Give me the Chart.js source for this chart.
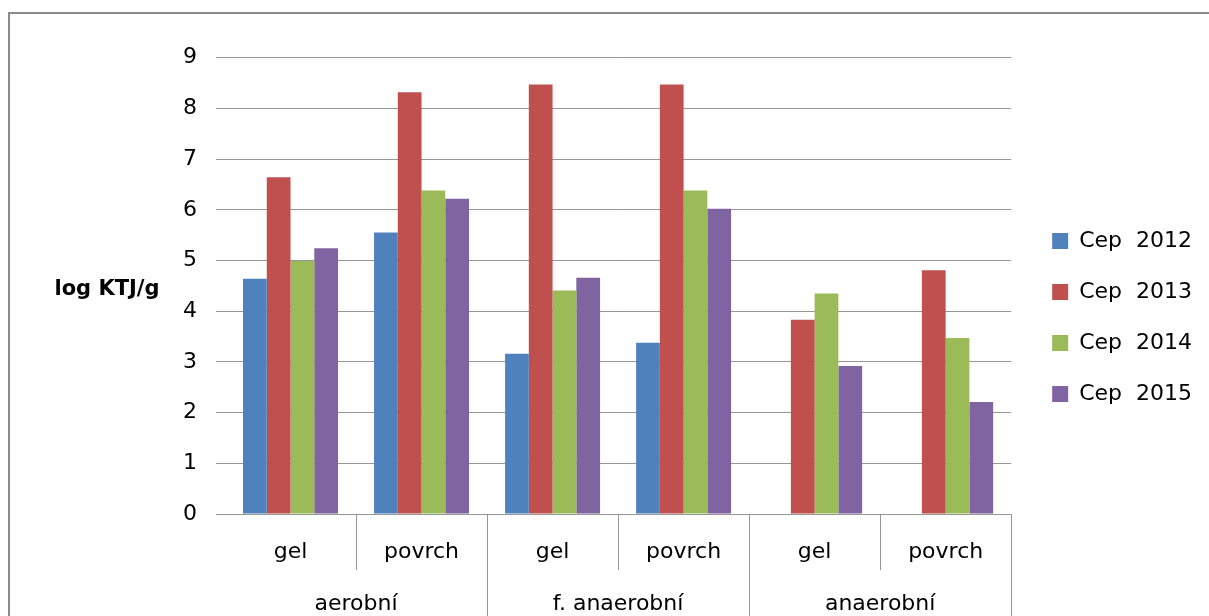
<!DOCTYPE html>
<html><head><meta charset="utf-8">
<script src="https://cdn.jsdelivr.net/npm/chart.js@4"></script>
<style>
html,body{margin:0;padding:0;background:#fff;overflow:hidden;width:1209px;height:616px;}
#frame{position:absolute;left:8px;top:12px;width:1400px;height:800px;border:2px solid #8a8a8a;box-sizing:border-box;}
#wrap{position:absolute;left:0;top:0;width:1209px;height:660px;}
</style></head><body>
<div id="frame"></div>
<div id="wrap"><canvas id="c"></canvas></div>
<script>
const subCategories = ['gel', 'povrch', 'gel', 'povrch', 'gel', 'povrch'];
const groupLabels = ['aerobní', 'f. anaerobní', 'anaerobní'];
const seriesNames = ['Cep  2012', 'Cep  2013', 'Cep  2014', 'Cep  2015'];
const cep2012 = [4.64, 5.55, 3.16, 3.38, null, null];
const cep2013 = [6.64, 8.32, 8.47, 8.47, 3.83, 4.81];
const cep2014 = [4.99, 6.38, 4.41, 6.38, 4.35, 3.47];
const cep2015 = [5.24, 6.22, 4.66, 6.02, 2.92, 2.21];
const yMin = 0, yMax = 9, yStep = 1;
const yAxisTitle = 'log KTJ/g';

const colors = ['#4F81BD', '#C0504D', '#9BBB59', '#8064A2'];
const seriesValues = [cep2012, cep2013, cep2014, cep2015];
const FONT = 'DejaVu Sans';
const lineColor = '#969696';

const yTitlePlugin = {
  id: 'yTitle',
  afterDraw(chart) {
    const ctx = chart.ctx;
    const y = chart.scales.y;
    ctx.save();
    ctx.font = 'bold 21px "' + FONT + '"';
    ctx.fillStyle = '#000';
    ctx.textAlign = 'center';
    ctx.textBaseline = 'alphabetic';
    ctx.fillText(yAxisTitle, 107, (y.top + y.bottom) / 2 + 9);
    ctx.restore();
  }
};

new Chart(document.getElementById('c'), {
  type: 'bar',
  data: {
    labels: subCategories,
    datasets: seriesValues.map((v, i) => ({
      label: seriesNames[i],
      data: v,
      backgroundColor: colors[i],
      borderWidth: 0,
      categoryPercentage: 0.725,
      barPercentage: 1.0,
      xAxisID: 'x',
      yAxisID: 'y'
    }))
  },
  options: {
    responsive: true,
    maintainAspectRatio: false,
    animation: false,
    layout: { padding: { top: 0, left: 0, right: 7, bottom: 25 } },
    plugins: {
      tooltip: { enabled: false },
      legend: {
        position: 'right',
        align: 'center',
        labels: {
          boxWidth: 16, boxHeight: 16, padding: 29,
          color: '#000',
          font: { family: FONT, size: 22 }
        }
      }
    },
    scales: {
      x: {
        type: 'category',
        position: 'bottom',
        offset: true,
        grid: {
          offset: true, drawOnChartArea: false, drawTicks: true, tickLength: 56,
          color: (c) => (c.index === 0 ? 'rgba(0,0,0,0)' : lineColor), lineWidth: 1
        },
        border: { display: true, color: lineColor, width: 1 },
        ticks: { color: '#000', font: { family: FONT, size: 22 }, padding: -31, maxRotation: 0, autoSkip: false },
        afterFit: (s) => { s.height = 56; }
      },
      x2: {
        type: 'category',
        position: 'bottom',
        labels: groupLabels,
        offset: true,
        grid: {
          offset: true, drawOnChartArea: false, drawTicks: true, tickLength: 65,
          color: (c) => (c.index === 0 ? 'rgba(0,0,0,0)' : lineColor), lineWidth: 1
        },
        border: { display: false },
        ticks: { color: '#000', font: { family: FONT, size: 22 }, padding: -44, maxRotation: 0, autoSkip: false },
        afterFit: (s) => { s.height = 65; }
      },
      xTop: {
        type: 'category',
        position: 'top',
        grid: { display: false },
        border: { display: false },
        ticks: { display: false },
        afterFit: (s) => { s.height = 57.7; }
      },
      y: {
        type: 'linear',
        position: 'left',
        min: yMin, max: yMax,
        grid: { color: lineColor, lineWidth: 1, tickLength: 9, drawTicks: true },
        border: { display: false },
        ticks: { stepSize: yStep, color: '#000', font: { family: FONT, size: 22 }, padding: 19 },
        afterFit: (s) => { s.width = 225; }
      },
      yR: {
        type: 'linear',
        position: 'right',
        min: yMin, max: yMax,
        grid: { display: false },
        border: { display: false },
        ticks: { display: false },
        afterFit: (s) => { s.width = 12; }
      }
    }
  },
  plugins: [yTitlePlugin]
});
</script>
</body></html>
